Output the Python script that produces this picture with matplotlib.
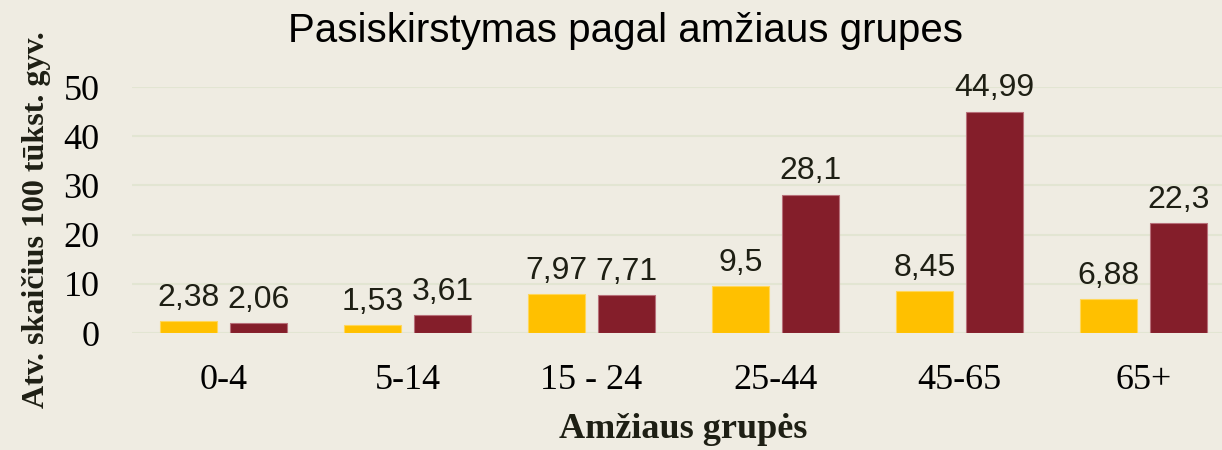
import numpy as np
import matplotlib
matplotlib.use("Agg")
import matplotlib.pyplot as plt

# data
groups = ["0-4", "5-14", "15 - 24", "25-44", "45-65", "65+"]
series_a = [2.38, 1.53, 7.97, 9.5, 8.45, 6.88]
series_b = [2.06, 3.61, 7.71, 28.1, 44.99, 22.3]
y_ticks = [0, 10, 20, 30, 40, 50]

bg = "#EFECE2"
yellow = "#FFC000"
red = "#841E2A"
grid_col = "#E2E5D2"
label_col = "#1E1F14"

W, H = 1222, 450
fig = plt.figure(figsize=(W / 100, H / 100), dpi=100, facecolor=bg)
# axes runs a bit past the right edge, as in the reference
ax = fig.add_axes([131.5 / W, (H - 333) / H, 1104 / W, 246 / H])
ax.set_facecolor(bg)

x = np.arange(len(groups))
bw = 0.31
off = 0.19
bars_a = ax.bar(x - off, series_a, bw, color=yellow, edgecolor="#FFD75A", linewidth=0.8, zorder=3)
bars_b = ax.bar(x + off, series_b, bw, color=red, edgecolor="#B8707A", linewidth=0.8, zorder=3)

for bars, vals in ((bars_a, series_a), (bars_b, series_b)):
    for b, v in zip(bars, vals):
        ax.annotate(f"{v:g}".replace(".", ","), (b.get_x() + b.get_width() / 2, v),
                    xytext=(0, 11), textcoords="offset points", ha="center", va="baseline",
                    fontsize=23, family="Liberation Sans", color=label_col, clip_on=False)

ax.set_xlim(-0.5, len(groups) - 0.5)
ax.set_ylim(0, 50)
ax.set_yticks(y_ticks)
ax.set_yticklabels([str(t) for t in y_ticks], family="Liberation Serif", fontsize=26)
ax.set_xticks(x)
ax.set_xticklabels(groups, family="Liberation Serif", fontsize=26)
ax.tick_params(axis="y", length=0, pad=23)
ax.tick_params(axis="x", length=0, pad=22)
ax.grid(axis="y", color=grid_col, linewidth=1.5, zorder=0)
for s in ax.spines.values():
    s.set_visible(False)

fig.text(37 / W, 1 - 220 / H, "Atv. skaičius 100 tūkst. gyv.", rotation=90, ha="center", va="center",
         family="Liberation Serif", fontweight="bold", fontsize=23, color=label_col)
fig.text(683 / W, 1 - 429 / H, "Amžiaus grupės", ha="center", va="center",
         family="Liberation Serif", fontweight="bold", fontsize=26, color=label_col)
fig.text(625 / W, 1 - 31 / H, "Pasiskirstymas pagal amžiaus grupes", ha="center", va="center",
         family="Liberation Sans", fontsize=29, color="black")

fig.savefig("out.png", dpi=100, facecolor=bg)
